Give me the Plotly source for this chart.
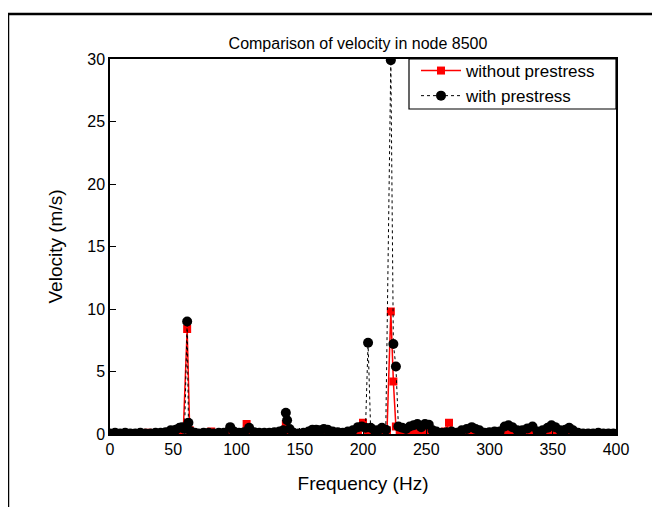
import plotly.graph_objects as go

# with prestress (black circles, dashed)
freq_with = [0, 4, 8, 12, 16, 20, 24, 28, 32, 36, 40, 44, 48, 52, 55, 57, 59, 61, 62, 64, 67, 70, 74, 78, 82, 86, 90,
             95, 98, 102, 106, 110, 114, 118, 122, 126, 130, 134, 137, 139, 140, 142, 145, 149, 153, 157, 160, 163,
             166, 169, 172, 176, 180, 184, 188, 192, 196, 199, 202, 204, 206, 209, 212, 215, 218, 222, 224, 226, 228,
             231, 234, 237, 240, 243, 246, 249, 252, 255, 258, 262, 266, 270, 274, 278, 282, 286, 289, 292, 296, 300,
             304, 308, 312, 315, 318, 322, 326, 330, 334, 338, 342, 346, 349, 352, 356, 360, 363, 366, 370, 374, 378,
             382, 386, 390, 394, 398]
vel_with = [0.05, 0.1, 0.05, 0.1, 0.05, 0.05, 0.1, 0.05, 0.05, 0.1, 0.1, 0.15, 0.3, 0.35, 0.5, 0.55, 0.4, 9.0, 0.9,
            0.2, 0.1, 0.05, 0.1, 0.1, 0.05, 0.1, 0.1, 0.55, 0.2, 0.1, 0.15, 0.5, 0.15, 0.1, 0.1, 0.1, 0.15, 0.2,
            0.3, 1.7, 1.1, 0.4, 0.1, 0.05, 0.1, 0.2, 0.35, 0.35, 0.3, 0.4, 0.35, 0.2, 0.15, 0.1, 0.2, 0.3, 0.55,
            0.6, 0.5, 7.3, 0.5, 0.3, 0.3, 0.5, 0.35, 29.9, 7.2, 5.4, 0.6, 0.5, 0.4, 0.6, 0.7, 0.8, 0.55, 0.8, 0.75,
            0.3, 0.2, 0.1, 0.15, 0.2, 0.1, 0.3, 0.4, 0.55, 0.4, 0.3, 0.1, 0.15, 0.2, 0.2, 0.6, 0.7, 0.55, 0.3, 0.3,
            0.45, 0.6, 0.2, 0.3, 0.5, 0.7, 0.55, 0.3, 0.35, 0.5, 0.3, 0.1, 0.05, 0.05, 0.05, 0.1, 0.05, 0.05, 0.05]

# without prestress (red squares, solid)
freq_without = [0, 5, 10, 15, 20, 25, 30, 35, 40, 45, 50, 55, 58, 61, 63, 66, 70, 75, 80, 85, 90, 95, 100, 104, 108,
                112, 117, 122, 127, 132, 136, 139, 142, 147, 152, 157, 162, 167, 172, 177, 182, 187, 192, 196, 200,
                204, 208, 212, 216, 219, 222, 224, 226, 229, 233, 237, 241, 245, 249, 253, 257, 261, 265, 268, 272,
                277, 282, 287, 292, 297, 302, 307, 312, 315, 320, 325, 330, 335, 340, 345, 349, 354, 359, 364, 369,
                374, 379, 384, 389, 394, 399]
vel_without = [0.05, 0.05, 0.05, 0.05, 0.05, 0.05, 0.1, 0.05, 0.05, 0.1, 0.2, 0.3, 0.4, 8.4, 0.3, 0.1, 0.05, 0.1,
               0.2, 0.05, 0.05, 0.1, 0.05, 0.1, 0.8, 0.1, 0.05, 0.05, 0.05, 0.1, 0.2, 0.8, 0.2, 0.05, 0.05, 0.1,
               0.1, 0.1, 0.1, 0.05, 0.05, 0.05, 0.1, 0.3, 0.9, 0.2, 0.1, 0.1, 0.2, 0.3, 9.8, 4.2, 0.6, 0.2, 0.3, 0.2,
               0.25, 0.3, 0.2, 0.3, 0.1, 0.05, 0.2, 0.9, 0.1, 0.05, 0.1, 0.1, 0.05, 0.05, 0.05, 0.05, 0.1, 0.0, 0.05,
               0.05, 0.1, 0.05, 0.05, 0.1, 0.0, 0.05, 0.05, 0.1, 0.05, 0.05, 0.05, 0.05, 0.05, 0.05, 0.05]

fig = go.Figure()
fig.add_trace(go.Scatter(
    x=freq_without, y=vel_without, mode="lines+markers", name="without prestress",
    line=dict(color="#ff0000", width=1.5),
    marker=dict(symbol="square", size=8, color="#ff0000"),
))
fig.add_trace(go.Scatter(
    x=freq_with, y=vel_with, mode="lines+markers", name="with prestress",
    line=dict(color="#000000", width=1, dash="dot"),
    marker=dict(symbol="circle", size=10, color="#000000"),
))

font_family = "Liberation Sans, Arial, sans-serif"
fig.update_layout(
    width=660, height=507,
    margin=dict(l=102, r=52, t=51, b=81),
    paper_bgcolor="white", plot_bgcolor="white",
    font=dict(family=font_family, size=16, color="black"),
    title=dict(text="Comparison of velocity in node 8500", x=(358 - 8) / 660, xanchor="center",
               y=1 - 35 / 507, yanchor="middle", font=dict(size=16)),
    showlegend=True,
    legend=dict(x=(416 - 110) / 506, y=1 + 6 / 375, xanchor="left", yanchor="top",
                bgcolor="rgba(0,0,0,0)", borderwidth=0, font=dict(size=17),
                tracegroupgap=0, itemwidth=40),
    xaxis=dict(range=[0, 400], tickvals=[0, 50, 100, 150, 200, 250, 300, 350, 400],
               showline=True, linecolor="black", linewidth=1.5, mirror=True,
               ticks="inside", ticklen=6, tickcolor="black", showgrid=False, zeroline=False,
               title=dict(text="Frequency (Hz)", standoff=20)),
    yaxis=dict(range=[0, 30], tickvals=[0, 5, 10, 15, 20, 25, 30],
               showline=True, linecolor="black", linewidth=1.5, mirror=True,
               ticks="inside", ticklen=6, tickcolor="black", showgrid=False, zeroline=False,
               title=dict(text="Velocity (m/s)", standoff=20)),
    shapes=[
        dict(type="rect", xref="paper", yref="paper", x0=(409 - 110) / 506, x1=1.0,
             y0=(434 - 109) / 375, y1=1.0, fillcolor="white", layer="above",
             line=dict(color="black", width=1.2)),
        dict(type="line", xref="paper", yref="paper", x0=-0.2016, x1=1.2, y0=1.12, y1=1.12,
             line=dict(color="black", width=2.5)),
        dict(type="line", xref="paper", yref="paper", x0=-0.2016, x1=-0.2016, y0=1.12, y1=-0.3,
             line=dict(color="black", width=2.5)),
    ],
)

fig.write_html("out.html")
